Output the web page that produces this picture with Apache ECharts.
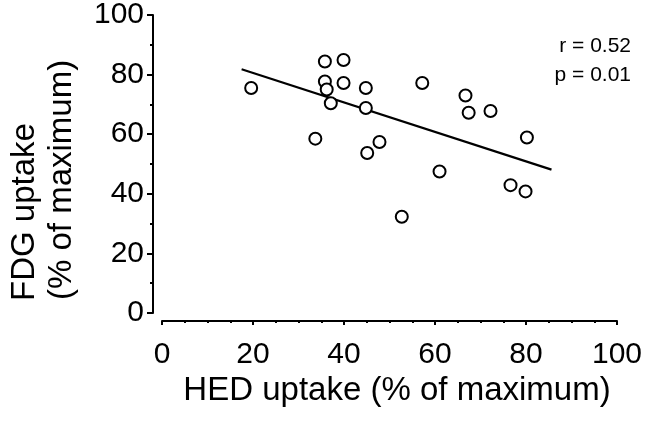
<!DOCTYPE html>
<html>
<head>
<meta charset="utf-8">
<script src="https://cdn.jsdelivr.net/npm/echarts@6/dist/echarts.min.js"></script>
<style>html,body{margin:0;padding:0;background:#fff;}#c{width:661px;height:426px;}</style>
</head>
<body>
<div id="c"></div>
<script>
// HED uptake (x) and FDG uptake (y), % of maximum
var hedValues = [19.6, 33.7, 35.8, 35.8, 36.2, 37.1, 39.9, 39.9, 44.8, 44.8, 45.1, 47.8, 52.7, 57.2, 61.0, 66.7, 67.4, 72.2, 76.6, 79.9, 80.2];
var fdgValues = [75.5, 58.5, 84.4, 77.7, 75.0, 70.4, 84.9, 77.2, 75.5, 68.8, 53.7, 57.4, 32.3, 77.2, 47.5, 73.0, 67.2, 67.8, 42.9, 40.8, 58.9];
// regression line end points
var fitX = [17.5, 85.6];
var fitY = [81.8, 48.1];
var xTicks = [0, 20, 40, 60, 80, 100];
var yTicks = [0, 20, 40, 60, 80, 100];
var xTitle = 'HED uptake (% of maximum)';
var yTitle1 = 'FDG uptake';
var yTitle2 = '(% of maximum)';
var statR = 'r = 0.52';
var statP = 'p = 0.01';

var font = 'Liberation Sans, Arial, Helvetica, sans-serif';
var chart = echarts.init(document.getElementById('c'), null, {renderer: 'canvas'});
var pts = hedValues.map(function (v, i) { return [v, fdgValues[i]]; });
var fit = fitX.map(function (v, i) { return [v, fitY[i]]; });

chart.setOption({
  animation: false,
  backgroundColor: '#fff',
  grid: {left: 162, right: 44, top: 12, bottom: 113, containLabel: false},
  xAxis: {
    type: 'value', min: xTicks[0], max: xTicks[xTicks.length - 1], interval: 20,
    offset: 8,
    axisLine: {show: true, onZero: false, lineStyle: {color: '#000', width: 2}},
    axisTick: {show: true, length: 4, lineStyle: {color: '#000', width: 2}},
    minorTick: {show: true, splitNumber: 4, length: 2, lineStyle: {color: '#000', width: 2}},
    splitLine: {show: false},
    axisLabel: {color: '#000', fontSize: 30, fontFamily: font, margin: 19}
  },
  yAxis: {
    type: 'value', min: yTicks[0], max: yTicks[yTicks.length - 1], interval: 20,
    offset: 9,
    axisLine: {show: true, onZero: false, lineStyle: {color: '#000', width: 2}},
    axisTick: {show: true, length: 6, lineStyle: {color: '#000', width: 2}},
    minorTick: {show: true, splitNumber: 2, length: 3, lineStyle: {color: '#000', width: 2}},
    splitLine: {show: false},
    axisLabel: {color: '#000', fontSize: 30, fontFamily: font, margin: 9}
  },
  graphic: [
    {type: 'text', x: 397, y: 391,
     style: {text: xTitle, font: '33px ' + font, fill: '#000', textAlign: 'center', textVerticalAlign: 'middle'}},
    {type: 'text', x: 25, y: 301, rotation: Math.PI / 2,
     style: {text: yTitle1, font: '33px ' + font, fill: '#000', textAlign: 'left', textVerticalAlign: 'middle'}},
    {type: 'text', x: 62, y: 300, rotation: Math.PI / 2,
     style: {text: yTitle2, font: '33px ' + font, fill: '#000', textAlign: 'left', textVerticalAlign: 'middle'}},
    {type: 'text', x: 631, y: 46,
     style: {text: statR, font: '21px ' + font, fill: '#000', textAlign: 'right', textVerticalAlign: 'middle'}},
    {type: 'text', x: 631, y: 75,
     style: {text: statP, font: '21px ' + font, fill: '#000', textAlign: 'right', textVerticalAlign: 'middle'}}
  ],
  series: [
    {type: 'line', data: fit, showSymbol: false, symbol: 'none', lineStyle: {color: '#000', width: 2.2}, z: 2},
    {type: 'scatter', data: pts, symbol: 'circle', symbolSize: 12,
     itemStyle: {color: '#fff', borderColor: '#000', borderWidth: 2, opacity: 1}, z: 3}
  ]
});
</script>
</body>
</html>
